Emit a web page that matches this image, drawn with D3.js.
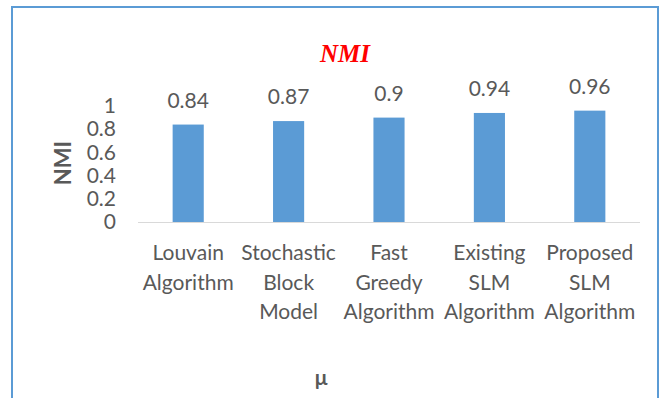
<!DOCTYPE html>
<html><head><meta charset="utf-8">
<script src="https://cdn.jsdelivr.net/npm/d3@7"></script>
<style>body{margin:0;background:#fff}svg{display:block}</style>
</head><body>
<script>
const categories = [["Louvain","Algorithm"],["Stochastic","Block","Model"],["Fast","Greedy","Algorithm"],["Existing","SLM","Algorithm"],["Proposed","SLM","Algorithm"]];
const values = [0.84, 0.87, 0.9, 0.94, 0.96];
const yTicks = [0, 0.2, 0.4, 0.6, 0.8, 1];
const title = "NMI", yTitle = "NMI", xTitle = "μ";

const W = 671, H = 398;
const svg = d3.select("body").append("svg").attr("width", W).attr("height", H);
const font = "Lato, 'Open Sans', sans-serif";
const txt = "#595959";

svg.append("rect").attr("x", 12).attr("y", 7).attr("width", 646).attr("height", 420)
  .attr("fill", "none").attr("stroke", "#5b9bd5").attr("stroke-width", 2);

const x = d3.scaleBand().domain(d3.range(values.length)).range([138, 640]).paddingInner(0.69).paddingOuter(0.345);
const y = d3.scaleLinear().domain([0, 1]).range([222, 106]);

svg.append("g").selectAll("rect").data(values).join("rect")
  .attr("x", (d,i)=>x(i)).attr("width", x.bandwidth())
  .attr("y", d=>y(d)).attr("height", d=>y(0)-y(d)).attr("fill", "#5b9bd5");

svg.append("line").attr("x1", 138).attr("x2", 640).attr("y1", y(0)+0.5).attr("y2", y(0)+0.5)
  .attr("stroke", "#d9d9d9").attr("stroke-width", 1);

const yAxis = d3.axisLeft(y).tickValues(yTicks).tickSize(0).tickPadding(0).tickFormat(d3.format("~g"));
const ga = svg.append("g").attr("transform", "translate(116,0)").call(yAxis);
ga.select(".domain").remove();
ga.selectAll("text").attr("fill", txt).style("font-family", font).style("font-size", "21px");

svg.append("g").selectAll("text").data(values).join("text")
  .attr("x", (d,i)=>x(i)+x.bandwidth()/2).attr("y", d=>y(d)-17)
  .attr("text-anchor", "middle").attr("fill", txt).style("font-family", font).style("font-size", "21px")
  .text(d=>d);

const cl = svg.append("g").selectAll("text").data(categories).join("text")
  .attr("text-anchor", "middle").attr("fill", txt).style("font-family", font).style("font-size", "21px");
cl.selectAll("tspan").data((d,i)=>d.map(s=>({s,i}))).join("tspan")
  .attr("x", d=>x(d.i)+x.bandwidth()/2).attr("y", (d,j)=>260+j*29.5).text(d=>d.s);

svg.append("text").attr("x", 345).attr("y", 62).attr("text-anchor", "middle")
  .attr("fill", "#ff0000").style("font-family", "'Liberation Serif', 'Times New Roman', serif")
  .style("font-style", "italic").style("font-weight", "bold").style("font-size", "25px").text(title);

svg.append("text").attr("transform", "translate(71,163) rotate(-90)").attr("text-anchor", "middle")
  .attr("fill", txt).style("font-family", font).style("font-weight", "bold").style("font-size", "22px").text(yTitle);

svg.append("text").attr("x", 321).attr("y", 385).attr("text-anchor", "middle")
  .attr("fill", txt).style("font-family", font).style("font-weight", "bold").style("font-size", "21px").text(xTitle);
</script>
</body></html>
